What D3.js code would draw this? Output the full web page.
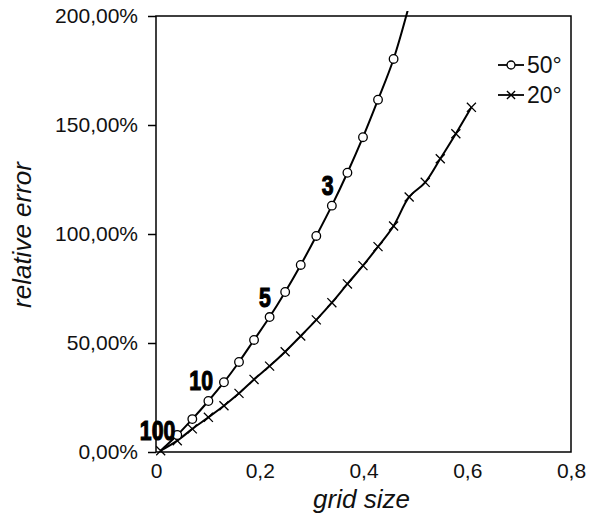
<!DOCTYPE html>
<html><head><meta charset="utf-8">
<script src="https://cdn.jsdelivr.net/npm/d3@7"></script>
<style>
body{margin:0;background:#fff;}
text{font-family:"Liberation Sans",Arial,sans-serif;}
</style></head>
<body><svg id="c" width="593" height="516"></svg>
<script>
const gridX = [0.009,0.041,0.070,0.101,0.131,0.160,0.189,0.219,0.249,0.279,0.309,0.339,0.369,0.399,0.428,0.458,0.488];
const err50 = [0.006,0.078,0.151,0.234,0.320,0.413,0.514,0.619,0.734,0.858,0.991,1.130,1.281,1.444,1.616,1.803,2.05];
const gridX20 = [0.009,0.041,0.070,0.101,0.131,0.160,0.189,0.219,0.249,0.279,0.309,0.339,0.369,0.399,0.428,0.458,0.488,0.519,0.548,0.578,0.608];
const err20 = [0.006,0.052,0.106,0.159,0.212,0.269,0.333,0.394,0.460,0.532,0.606,0.685,0.771,0.855,0.942,1.037,1.170,1.237,1.345,1.460,1.581];
const seriesNames = ["50°","20°"];
const xTicks = [0,0.2,0.4,0.6,0.8];
const xTickLabels = ["0","0,2","0,4","0,6","0,8"];
const yTicks = [0,0.5,1,1.5,2];
const yTickLabels = ["0,00%","50,00%","100,00%","150,00%","200,00%"];
const annot = [{t:"100",x:0.003,y:0.055},{t:"10",x:0.087,y:0.284},{t:"5",x:0.210,y:0.665},{t:"3",x:0.331,y:1.179}];

const svg = d3.select("#c");
const L=156,R=571,T=16,B=452;
const x = d3.scaleLinear().domain([0,0.8]).range([L,R]);
const y = d3.scaleLinear().domain([0,2]).range([B,T]);

svg.append("defs").append("clipPath").attr("id","clip").append("rect")
  .attr("x",L).attr("y",11).attr("width",R-L).attr("height",B-11+5);

// frame
svg.append("rect").attr("x",L).attr("y",T).attr("width",R-L).attr("height",B-T)
  .attr("fill","none").attr("stroke","#000").attr("stroke-width",1.5);

// y axis
const yAx = svg.append("g").attr("transform",`translate(${L},0)`)
  .call(d3.axisLeft(y).tickValues(yTicks).tickSize(8).tickPadding(10).tickFormat((d,i)=>yTickLabels[i]));
yAx.select(".domain").remove();
yAx.selectAll("line").attr("stroke","#000").attr("stroke-width",1.5);
yAx.selectAll("text").attr("font-size",21).attr("fill","#111").attr("font-family","Liberation Sans, Arial, sans-serif");

// x axis
const xAx = svg.append("g").attr("transform",`translate(0,${B})`)
  .call(d3.axisBottom(x).tickValues(xTicks).tickSize(0).tickPadding(11).tickFormat((d,i)=>xTickLabels[i]));
xAx.select(".domain").remove();
xAx.selectAll("text").attr("font-size",21).attr("fill","#111").attr("font-family","Liberation Sans, Arial, sans-serif");

// titles
svg.append("text").attr("x",(L+R)/2-2).attr("y",508).attr("text-anchor","middle")
  .attr("font-size",26).attr("font-style","italic").attr("fill","#111").text("grid size");
svg.append("text").attr("transform",`translate(31,${(T+B)/2+1}) rotate(-90)`).attr("text-anchor","middle")
  .attr("font-size",26).attr("font-style","italic").attr("fill","#111").text("relative error");

const line = d3.line().x(d=>x(d[0])).y(d=>y(d[1])).curve(d3.curveCatmullRom.alpha(0.5));
const d50 = gridX.map((v,i)=>[v,err50[i]]);
const d20 = gridX20.map((v,i)=>[v,err20[i]]);

const g = svg.append("g").attr("clip-path","url(#clip)");
g.append("path").attr("d",line(d20)).attr("fill","none").attr("stroke","#000").attr("stroke-width",2);
g.append("path").attr("d",line(d50)).attr("fill","none").attr("stroke","#000").attr("stroke-width",2);

const cross = d3.symbol().type(d3.symbolTimes).size(55);
g.selectAll(".m20").data(d20).join("path")
  .attr("transform",d=>`translate(${x(d[0])},${y(d[1])})`).attr("d",cross())
  .attr("fill","none").attr("stroke","#000").attr("stroke-width",1.3);
g.selectAll(".m50").data(d50.filter(d=>d[1]<=2 && d[0]>0.02)).join("circle")
  .attr("cx",d=>x(d[0])).attr("cy",d=>y(d[1])).attr("r",4.3)
  .attr("fill","#fff").attr("stroke","#000").attr("stroke-width",1.3);

// annotations
svg.selectAll(".ann").data(annot).join("text")
  .attr("transform",d=>`translate(${x(d.x)},${y(d.y)}) scale(0.85,1.12)`)
  .attr("text-anchor","middle")
  .attr("font-family","Liberation Sans Narrow, DejaVu Sans Condensed, sans-serif")
  .attr("font-weight","bold").attr("font-size",25).attr("fill","#000")
  .attr("stroke","#000").attr("stroke-width",1)
  .text(d=>d.t);

// legend
const leg = svg.append("g");
[0,1].forEach(i=>{
  const yy = 65 + i*30;
  leg.append("line").attr("x1",498).attr("x2",524).attr("y1",yy).attr("y2",yy).attr("stroke","#000").attr("stroke-width",1.8);
  if(i===0) leg.append("circle").attr("cx",511).attr("cy",yy).attr("r",4).attr("fill","#fff").attr("stroke","#000").attr("stroke-width",1.3);
  else leg.append("path").attr("transform",`translate(511,${yy})`).attr("d",d3.symbol().type(d3.symbolTimes).size(45)()).attr("stroke","#000").attr("stroke-width",1.3);
  leg.append("text").attr("x",527).attr("y",yy).attr("dy","0.35em").attr("font-size",23).attr("fill","#111").text(seriesNames[i]);
});
</script></body></html>
